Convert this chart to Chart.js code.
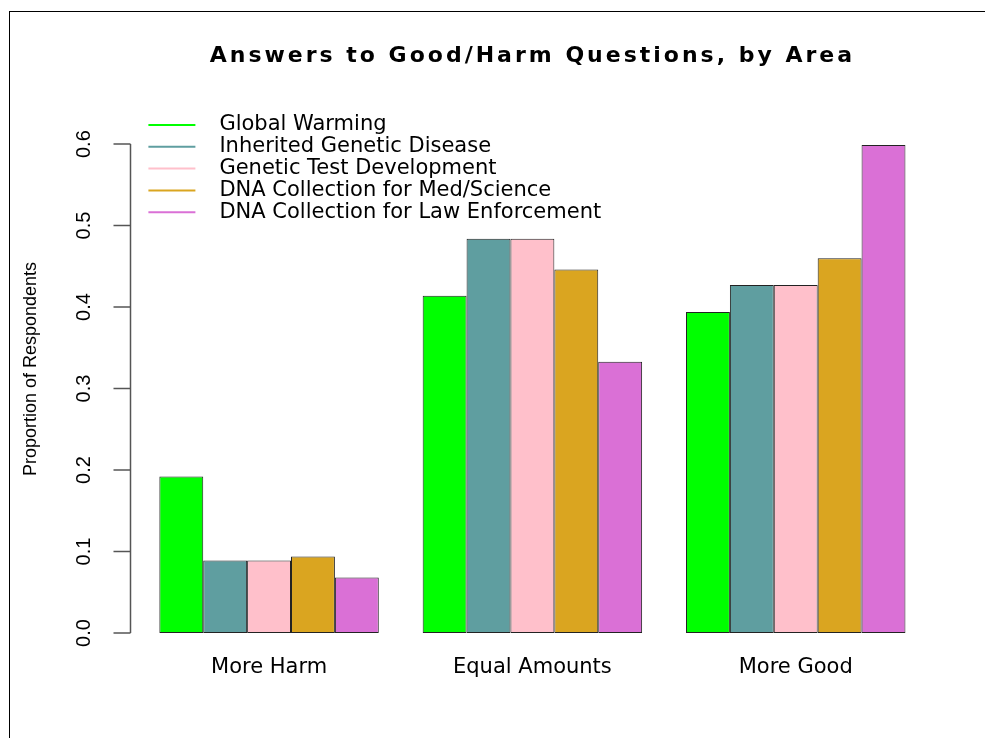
<!DOCTYPE html>
<html><head><meta charset="utf-8">
<script src="https://cdn.jsdelivr.net/npm/chart.js@4/dist/chart.umd.min.js"></script>
<style>
html,body{margin:0;padding:0;background:#fff;}
#wrap{position:relative;width:985px;height:738px;overflow:hidden;}
#frame{position:absolute;left:9px;top:11px;width:990px;height:740px;border-top:1px solid #000;border-left:1px solid #000;pointer-events:none;}
canvas{position:absolute;left:0;top:0;}
</style></head><body>
<div id="wrap"><canvas id="c" width="985" height="738"></canvas><div id="frame"></div></div>
<script>
const categories = ['More Harm', 'Equal Amounts', 'More Good'];
const seriesNames = ['Global Warming', 'Inherited Genetic Disease', 'Genetic Test Development', 'DNA Collection for Med/Science', 'DNA Collection for Law Enforcement'];
const seriesColors = ['#00FF00', '#5F9EA0', '#FFC0CB', '#DAA520', '#DA70D6'];
const globalWarming = [0.192, 0.414, 0.394];
const inheritedDisease = [0.089, 0.484, 0.427];
const geneticTest = [0.089, 0.484, 0.427];
const dnaMedScience = [0.094, 0.446, 0.460];
const dnaLawEnforcement = [0.068, 0.333, 0.599];
const yTicks = [0.0, 0.1, 0.2, 0.3, 0.4, 0.5, 0.6];
const seriesValues = [globalWarming, inheritedDisease, geneticTest, dnaMedScience, dnaLawEnforcement];

const yAxisLine = {
  id: 'yAxisLine',
  afterDraw(chart) {
    const ys = chart.scales.y, ctx = chart.ctx;
    const x = Math.round(chart.chartArea.left - 7) + 0.5;
    ctx.save();
    ctx.strokeStyle = '#555';
    ctx.lineWidth = 1.5;
    ctx.beginPath();
    ctx.moveTo(x, ys.getPixelForValue(yTicks[0]));
    ctx.lineTo(x, ys.getPixelForValue(yTicks[yTicks.length - 1]));
    yTicks.forEach(v => {
      const py = ys.getPixelForValue(v);
      ctx.moveTo(x, py);
      ctx.lineTo(x - 17, py);
    });
    ctx.stroke();
    ctx.restore();
  }
};

const insetLegend = {
  id: 'insetLegend',
  afterDraw(chart) {
    const ctx = chart.ctx, ca = chart.chartArea;
    ctx.save();
    ctx.font = '21px "DejaVu Sans"';
    ctx.textBaseline = 'middle';
    ctx.textAlign = 'left';
    chart.data.datasets.forEach((ds, i) => {
      const yy = ca.top + 20 + i * 21.8;
      ctx.strokeStyle = ds.backgroundColor;
      ctx.lineWidth = 2;
      ctx.beginPath();
      ctx.moveTo(ca.left + 11, yy);
      ctx.lineTo(ca.left + 58, yy);
      ctx.stroke();
      ctx.fillStyle = '#000';
      ctx.fillText(ds.label, ca.left + 82, yy);
    });
    ctx.restore();
  }
};

const chart = new Chart(document.getElementById('c'), {
  type: 'bar',
  data: {
    labels: categories,
    datasets: seriesNames.map((name, i) => ({
      label: name,
      data: seriesValues[i],
      backgroundColor: seriesColors[i],
      borderColor: '#222',
      borderWidth: 1,
      borderSkipped: false,
      categoryPercentage: 5 / 6,
      barPercentage: 1.0
    }))
  },
  options: {
    responsive: false,
    animation: false,
    devicePixelRatio: 1,
    layout: { padding: { left: 0, right: 57.6, top: 0, bottom: 0 } },
    plugins: {
      legend: { display: false },
      tooltip: { enabled: false },
      title: {
        display: true,
        text: 'Answers to Good/Harm Questions, by Area',
        color: '#000',
        font: { family: '"DejaVu Sans"', size: 22, weight: 'bold', lineHeight: 1.2 },
        padding: { top: 43, bottom: 35.6 }
      }
    },
    scales: {
      x: {
        grid: { display: false },
        border: { display: false },
        ticks: { color: '#000', padding: 14, font: { family: '"DejaVu Sans"', size: 21 }, maxRotation: 0, autoSkip: false },
        afterFit(scale) { scale.height = 105; }
      },
      y: {
        min: 0,
        max: 0.648,
        grid: { display: false },
        border: { display: false },
        afterBuildTicks(scale) { scale.ticks = yTicks.map(v => ({ value: v })); },
        ticks: {
          color: '#000',
          minRotation: 90,
          maxRotation: 90,
          crossAlign: 'center',
          padding: 31.5,
          font: { family: '"Liberation Sans"', size: 20 },
          callback: v => Number(v).toFixed(1)
        },
        title: {
          display: true,
          text: 'Proportion of Respondents',
          color: '#000',
          font: { family: '"Liberation Sans"', size: 18 },
          padding: { top: 20, bottom: 0 }
        },
        afterFit(scale) { scale.width = 137.4; }
      }
    }
  },
  plugins: [yAxisLine, insetLegend]
});

// centre the title over the plot area and widen its letter spacing, as in the reference
if (chart.titleBlock) {
  const tb = chart.titleBlock;
  const origDraw = tb.draw.bind(tb);
  tb.draw = function () {
    const ctx = chart.ctx;
    const ca = chart.chartArea;
    ctx.save();
    ctx.translate((ca.left + ca.right) / 2 - (tb.left + tb.right) / 2, 0);
    if ('letterSpacing' in ctx) ctx.letterSpacing = '3px';
    origDraw();
    ctx.restore();
  };
  chart.draw();
}
</script>
</body></html>
